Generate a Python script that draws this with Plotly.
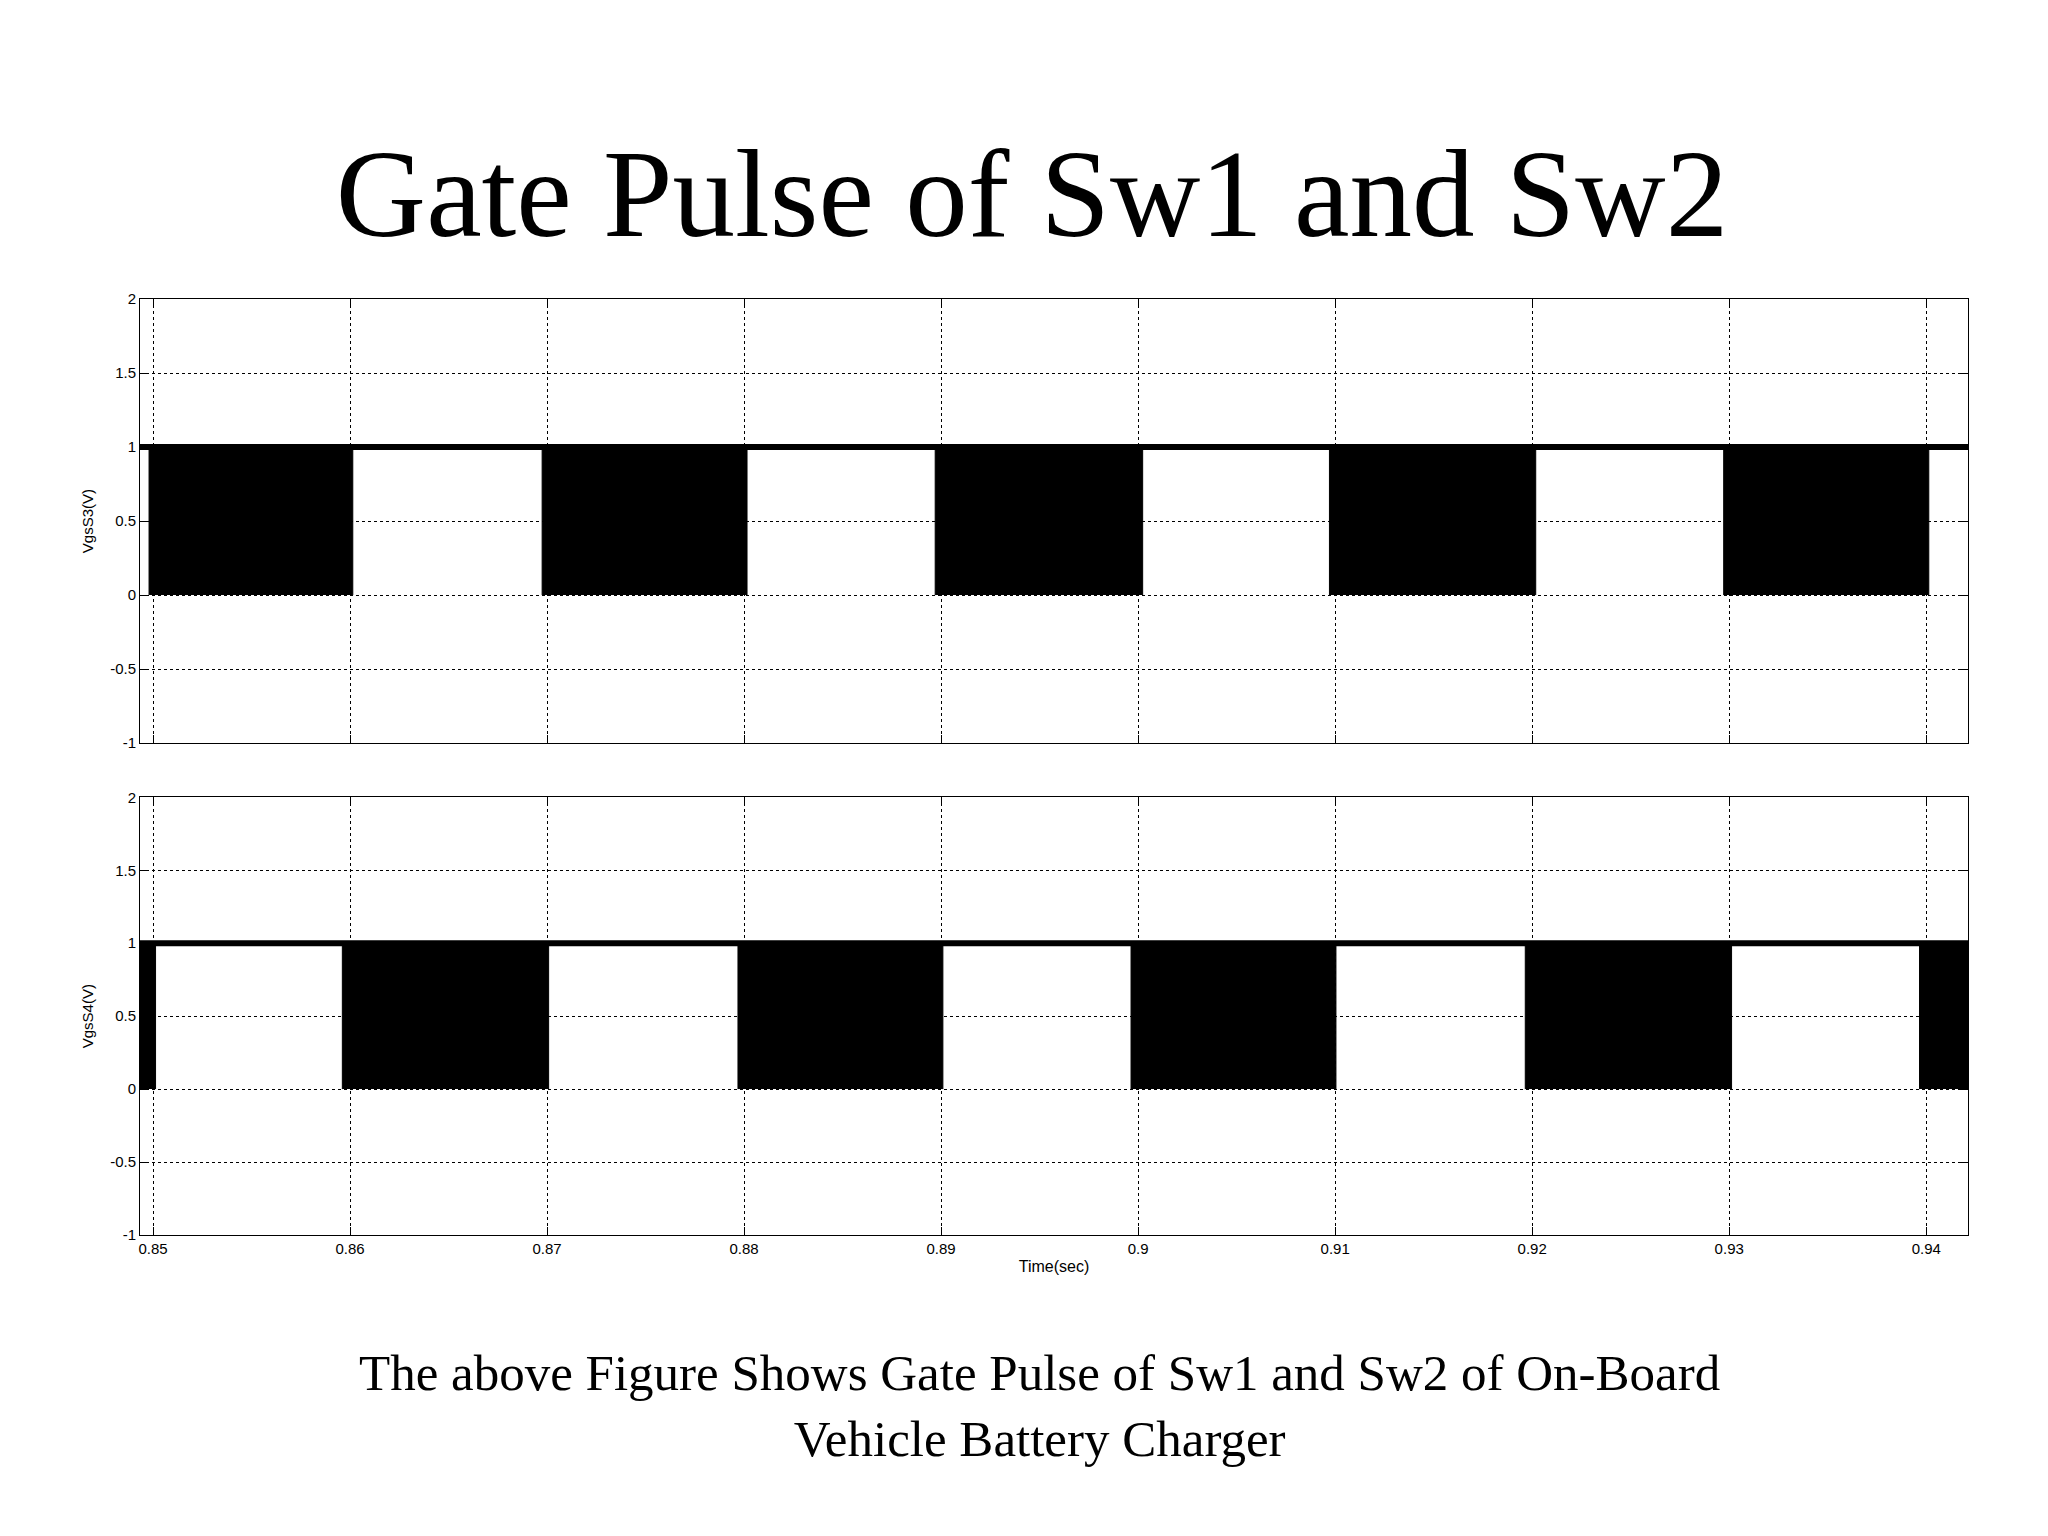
import plotly.graph_objects as go
from plotly.subplots import make_subplots

# time window and pulse-train blocks (sec)
t_min, t_max = 0.84934, 0.94212
sw1_start = [0.8498, 0.86975, 0.8897, 0.90971, 0.92972]
sw1_end = [0.86014, 0.88015, 0.90023, 0.92018, 0.94013]
sw2_start = [0.84934, 0.85961, 0.87969, 0.89964, 0.91965, 0.93966]
sw2_end = [0.85013, 0.87008, 0.89009, 0.91004, 0.93012, 0.94212]
high_level = 1
low_level = 0

x_ticks = [0.85, 0.86, 0.87, 0.88, 0.89, 0.9, 0.91, 0.92, 0.93, 0.94]
x_tick_text = ["0.85", "0.86", "0.87", "0.88", "0.89", "0.9", "0.91", "0.92", "0.93", "0.94"]
y_ticks = [-1, -0.5, 0, 0.5, 1, 1.5, 2]
y_tick_text = ["-1", "-0.5", "0", "0.5", "1", "1.5", "2"]

fig = make_subplots(rows=2, cols=1, vertical_spacing=0.0)

for row, starts, ends in [(1, sw1_start, sw1_end), (2, sw2_start, sw2_end)]:
    # steady high level
    fig.add_trace(go.Scatter(x=[t_min, t_max], y=[high_level, high_level], mode="lines",
                             line=dict(color="black", width=6), showlegend=False), row=row, col=1)
    # switching blocks look solid black at this zoom
    for s, e in zip(starts, ends):
        fig.add_trace(go.Scatter(x=[s, s, e, e], y=[low_level, high_level, high_level, low_level],
                                 mode="lines", fill="toself", fillcolor="black",
                                 line=dict(color="black", width=1), showlegend=False), row=row, col=1)

axis_common = dict(showline=True, linecolor="black", linewidth=1, mirror="ticks", ticks="inside",
                   ticklen=8, tickcolor="black", showgrid=True, gridcolor="black", griddash="dot",
                   gridwidth=1, zeroline=False, tickfont=dict(family="Liberation Sans", size=15, color="black"))

fig.update_xaxes(range=[t_min, t_max], tickvals=x_ticks, ticktext=x_tick_text, **axis_common)
fig.update_xaxes(showticklabels=False, row=1, col=1)
fig.update_xaxes(title_text="Time(sec)", title_font=dict(family="Liberation Sans", size=16, color="black"),
                 title_standoff=4, row=2, col=1)
fig.update_yaxes(range=[-1, 2], tickvals=y_ticks, ticktext=y_tick_text, **axis_common)
fig.update_yaxes(title_text="VgsS3(V)", row=1, col=1)
fig.update_yaxes(title_text="VgsS4(V)", row=2, col=1)
fig.update_yaxes(title_font=dict(family="Liberation Sans", size=15, color="black"), title_standoff=12)

fig.update_layout(
    width=2048, height=1536,
    paper_bgcolor="white", plot_bgcolor="white",
    margin=dict(l=132, r=88, t=291, b=309),
    xaxis=dict(domain=[0, 1]), xaxis2=dict(domain=[0, 1]),
    yaxis=dict(domain=[0.5255, 1.0]), yaxis2=dict(domain=[0, 0.4676]),
    title=dict(text="Gate Pulse of Sw1 and Sw2", x=0.5, xanchor="center", y=0.88, yanchor="middle",
               font=dict(family="Liberation Serif", size=125, color="black")),
    annotations=list(fig.layout.annotations) + [
        dict(text="The above Figure Shows Gate Pulse of Sw1 and Sw2 of On-Board<br>Vehicle Battery Charger",
             xref="paper", yref="paper", x=0.492, y=-0.115, xanchor="center", yanchor="top", showarrow=False,
             font=dict(family="Liberation Serif", size=51, color="black"))
    ],
)

fig.write_html("out.html")
